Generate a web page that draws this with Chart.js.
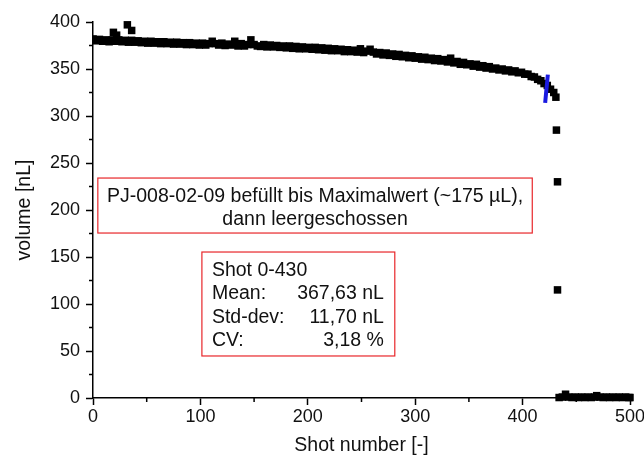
<!DOCTYPE html>
<html>
<head>
<meta charset="utf-8">
<script src="https://cdn.jsdelivr.net/npm/chart.js@4"></script>
<style>
html, body { margin: 0; padding: 0; background: #fff; overflow: hidden; }
#wrap { width: 660px; height: 462px; }
</style>
</head>
<body>
<div id="wrap"><canvas id="chart" width="660" height="462"></canvas></div>
<script>
// shots 0-429 (every third shot)
var shots = [
    0, 3, 6, 9, 12, 15, 18, 21, 24, 27,
    30, 33, 36, 39, 42, 45, 48, 51, 54, 57,
    60, 63, 66, 69, 72, 75, 78, 81, 84, 87,
    90, 93, 96, 99, 102, 105, 108, 111, 114, 117,
    120, 123, 126, 129, 132, 135, 138, 141, 144, 147,
    150, 153, 156, 159, 162, 165, 168, 171, 174, 177,
    180, 183, 186, 189, 192, 195, 198, 201, 204, 207,
    210, 213, 216, 219, 222, 225, 228, 231, 234, 237,
    240, 243, 246, 249, 252, 255, 258, 261, 264, 267,
    270, 273, 276, 279, 282, 285, 288, 291, 294, 297,
    300, 303, 306, 309, 312, 315, 318, 321, 324, 327,
    330, 333, 336, 339, 342, 345, 348, 351, 354, 357,
    360, 363, 366, 369, 372, 375, 378, 381, 384, 387,
    390, 393, 396, 399, 402, 405, 408, 411, 414, 417,
    420, 423, 426, 429
]
var volumes = [
    382, 380, 381.5, 379.5, 381, 379, 381, 379.5, 381, 379,
    380.5, 378.5, 380.5, 378.5, 380, 378, 379.5, 377.5, 379.5, 377.5,
    379, 377, 379, 377, 378.5, 376.5, 378.5, 376.5, 378, 376,
    378, 376, 377.5, 375.5, 377.5, 375.5, 377, 379.5, 377, 375.5,
    377.5, 375, 376.5, 375.5, 379.5, 374.5, 377, 374.5, 376, 381,
    376, 374.5, 374, 376, 373.5, 375.5, 373.5, 375, 373, 374.5,
    372.5, 374.5, 372, 374, 371.5, 373.5, 371.5, 373, 371, 373,
    370.5, 372.5, 370, 372, 369.5, 371.5, 369.5, 371, 368.5, 370.5,
    368.5, 370, 368, 371.5, 367.5, 369, 371, 368, 366, 367.5,
    365, 367, 364.5, 366, 363.5, 365.5, 363, 364.5, 362, 364,
    361.5, 363, 360.5, 362.5, 360, 361.5, 359, 361, 358.5, 360,
    357.5, 361.5, 356.5, 358, 355, 357, 354.5, 355.5, 353, 355,
    352, 353.5, 351, 352.5, 350, 351, 349, 350, 348, 349,
    347, 348, 346, 346.5, 344.5, 344.5, 342, 341.5, 339, 337.5,
    334.5, 332.5, 328.5, 325
]

// outliers at the start, the drop and the empty shots after 430
var extraShots = [19, 22, 32, 36, 431, 431.5, 432.5, 432.5,
    434, 437, 440, 443, 446, 449, 452, 455, 458, 461, 464, 467, 469,
    472, 475, 478, 481, 484, 487, 490, 493, 496, 499, 500]
var extraVolumes = [389, 386, 397, 391, 320, 285, 230, 115,
    0.5, 1, 4, 1, 0.5, 1, 0.5, 1, 0.5, 1, 0.5, 1, 2.5,
    1, 0.5, 1, 0.5, 1, 0.5, 1, 0.5, 1, 0.5, 0.5]

// short blue mark near shot 422
var fitShots = [421, 423.5]
var fitVolumes = [314, 344]

var xTicks = [0, 100, 200, 300, 400, 500]
var xMinor = [50, 150, 250, 350, 450]
var yTicks = [0, 50, 100, 150, 200, 250, 300, 350, 400]
var yMinor = [25, 75, 125, 175, 225, 275, 325, 375]

var box1Lines = ['PJ-008-02-09 befüllt bis Maximalwert (~175 µL),', 'dann leergeschossen']
var box2Labels = ['Shot 0-430', 'Mean:', 'Std-dev:', 'CV:']
var box2Values = ['', '367,63 nL', '11,70 nL', '3,18 %']

function toPoints(xs, ys) {
    var pts = []
    for (var i = 0; i < xs.length; i++) {
        pts.push({x: xs[i], y: ys[i]})
    }
    return pts
}

var FONT = '"Liberation Sans", Arial, sans-serif'

var minorTicks = {
    id: 'minorTicks',
    afterDraw: function (chart) {
        var ctx = chart.ctx
        var x = chart.scales.x, y = chart.scales.y
        ctx.save()
        ctx.strokeStyle = '#000'
        ctx.lineWidth = 1.5
        ctx.beginPath()
        for (var i = 0; i < xMinor.length; i++) {
            var px = x.getPixelForValue(xMinor[i])
            ctx.moveTo(px, y.bottom)
            ctx.lineTo(px, y.bottom + 4)
        }
        for (var j = 0; j < yMinor.length; j++) {
            var py = y.getPixelForValue(yMinor[j])
            ctx.moveTo(x.left, py)
            ctx.lineTo(x.left - 4, py)
        }
        ctx.stroke()
        ctx.restore()
    }
}

var textBoxes = {
    id: 'textBoxes',
    afterDraw: function (chart) {
        var ctx = chart.ctx
        var x = chart.scales.x, y = chart.scales.y
        ctx.save()
        ctx.font = '19.5px ' + FONT
        ctx.textBaseline = 'middle'

        // box 1
        var l = x.getPixelForValue(4.5), r = x.getPixelForValue(409)
        var t = y.getPixelForValue(234), b = y.getPixelForValue(175.5)
        ctx.fillStyle = '#fff'
        ctx.fillRect(l, t, r - l, b - t)
        ctx.strokeStyle = '#e8262a'
        ctx.lineWidth = 1.2
        ctx.strokeRect(l, t, r - l, b - t)
        ctx.fillStyle = '#111'
        ctx.textAlign = 'center'
        ctx.fillText(box1Lines[0], (l + r) / 2, t + 19)
        ctx.fillText(box1Lines[1], (l + r) / 2, t + 42)

        // box 2
        l = x.getPixelForValue(101.4); r = x.getPixelForValue(281)
        t = y.getPixelForValue(155.3); b = y.getPixelForValue(44.7)
        ctx.fillStyle = '#fff'
        ctx.fillRect(l, t, r - l, b - t)
        ctx.strokeRect(l, t, r - l, b - t)
        ctx.fillStyle = '#111'
        for (var i = 0; i < box2Labels.length; i++) {
            var ly = t + 18.5 + i * 23.5
            ctx.textAlign = 'left'
            ctx.fillText(box2Labels[i], l + 10, ly)
            ctx.textAlign = 'right'
            ctx.fillText(box2Values[i], l + 182, ly)
        }
        ctx.restore()
    }
}

var markerStyle = {
    pointStyle: 'rect',
    pointRadius: 5.3,
    pointBorderWidth: 0,
    backgroundColor: '#000',
    borderColor: '#000',
    clip: {left: 0, top: 10, right: 10, bottom: 10}
}

const ctx = document.getElementById('chart');
new Chart(ctx, {
    type: 'scatter',
    data: {
        datasets: [{
            label: 'mark',
            type: 'line',
            data: toPoints(fitShots, fitVolumes),
            borderColor: '#1a1ae0',
            borderWidth: 4,
            pointRadius: 0,
            showLine: true,
            clip: false
        }, Object.assign({
            label: 'volume',
            data: toPoints(shots, volumes)
        }, markerStyle), Object.assign({
            label: 'volume2',
            data: toPoints(extraShots, extraVolumes)
        }, markerStyle)]
    },
    options: {
        responsive: false,
        animation: false,
        devicePixelRatio: 1,
        events: [],
        layout: {
            padding: {left: 0, right: 30, top: 22, bottom: 0}
        },
        plugins: {
            legend: {display: false},
            tooltip: {enabled: false}
        },
        scales: {
            x: {
                type: 'linear',
                min: 0,
                max: 500,
                afterBuildTicks: function (s) { s.ticks = xTicks.map(function (v) { return {value: v} }) },
                afterFit: function (s) { s.height = 64 },
                ticks: {
                    color: '#111',
                    font: {family: FONT, size: 18},
                    padding: 1,
                    maxRotation: 0
                },
                grid: {drawOnChartArea: false, tickLength: 7, tickColor: '#000', tickWidth: 1.5},
                border: {color: '#000', width: 1.5},
                title: {
                    display: true,
                    text: 'Shot number [-]',
                    color: '#111',
                    font: {family: FONT, size: 19.5},
                    padding: {top: 0, bottom: 5}
                }
            },
            y: {
                min: 0,
                max: 400,
                afterBuildTicks: function (s) { s.ticks = yTicks.map(function (v) { return {value: v} }) },
                afterFit: function (s) { s.width = 93 },
                ticks: {
                    color: '#111',
                    font: {family: FONT, size: 18},
                    padding: 6
                },
                grid: {drawOnChartArea: false, tickLength: 7, tickColor: '#000', tickWidth: 1.5},
                border: {color: '#000', width: 1.5},
                title: {
                    display: true,
                    text: 'volume [nL]',
                    color: '#111',
                    font: {family: FONT, size: 19.5},
                    padding: {top: 13, bottom: 0}
                }
            }
        }
    },
    plugins: [minorTicks, textBoxes]
});
</script>
</body>
</html>
